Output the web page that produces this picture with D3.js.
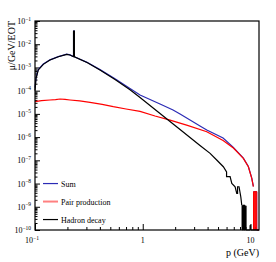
<!DOCTYPE html>
<html>
<head>
<meta charset="utf-8">
<script src="https://cdn.jsdelivr.net/npm/d3@7"></script>
<style>
  body { margin: 0; background: #fff; }
  svg { display: block; font-family: "Liberation Serif", "DejaVu Serif", serif; }
</style>
</head>
<body>
<div id="chart"></div>
<script>
// muon flux vs momentum
const hadronP = [0.100, 0.1022, 0.1073, 0.1194, 0.1377, 0.1645, 0.197, 0.2113, 0.2254, 0.228, 0.228, 0.232, 0.232, 0.304, 0.401, 0.553, 0.762, 0.944, 1.447, 2.22, 3.40, 4.22, 4.86, 5.60, 6.00, 6.00, 6.47, 6.71, 7.20, 7.46, 7.59, 7.59, 7.83, 8.13, 8.30];
const hadronV = [1.0e-4, 3.4e-4, 7.8e-4, 1.36e-3, 2.09e-3, 2.9e-3, 3.68e-3, 3.43e-3, 2.96e-3, 2.9e-3, 3.7e-2, 3.7e-2, 2.85e-3, 1.63e-3, 7.76e-4, 3.03e-4, 1.09e-4, 5.07e-5, 1.04e-5, 2.12e-6, 4.35e-7, 2.0e-7, 1.03e-7, 5.3e-8, 3.2e-8, 1.97e-8, 1.97e-8, 1.02e-8, 7.3e-9, 3.8e-9, 3.8e-9, 7.3e-9, 7.3e-9, 2.7e-9, 1.19e-9];
// last bins of the hadron histogram (bin edges, contents)
const hadronTailEdges = [8.30, 8.36, 8.42, 8.48, 8.54, 8.60, 8.66, 8.72, 8.78, 8.84, 8.90, 8.96, 9.02, 9.10, 9.90, 10.05, 12.0];
const hadronTailV = [1.2e-9, 0, 1.1e-9, 0, 1.2e-9, 0, 1.15e-9, 0, 1.2e-9, 0, 1.0e-9, 0, 1.1e-9, 0, 1.6e-10, 0, 0];

const pairP = [0.100, 0.115, 0.1377, 0.155, 0.1706, 0.19, 0.2113, 0.26, 0.324, 0.42, 0.533, 0.70, 0.944, 1.30, 1.793, 2.6, 3.93, 5.57, 6.94, 8.59, 9.56, 10.28, 10.64];
const pairV = [3.35e-5, 3.7e-5, 3.96e-5, 4.1e-5, 4.37e-5, 4.2e-5, 3.96e-5, 3.6e-5, 3.15e-5, 2.59e-5, 2.04e-5, 1.62e-5, 1.29e-5, 8.1e-6, 5.4e-6, 3.19e-6, 1.71e-6, 7.1e-7, 3.4e-7, 1.22e-7, 5.3e-8, 1.68e-8, 7.3e-9];
const pairTailEdges = [10.64, 10.67, 10.95, 10.98, 11.20, 11.23, 11.44, 12.0];
const pairTailV = [0, 4.5e-9, 0, 4.5e-9, 0, 4.5e-9, 0, 0];

const sumP = [0.100, 0.1022, 0.1073, 0.1194, 0.1377, 0.1645, 0.197, 0.2113, 0.2254, 0.228, 0.228, 0.232, 0.232, 0.304, 0.401, 0.553, 0.762, 0.944, 1.447, 1.911, 2.22, 3.40, 3.93, 5.57, 6.94, 8.59, 9.56, 10.28, 10.64];
const sumV = [1.35e-4, 3.74e-4, 8.15e-4, 1.40e-3, 2.13e-3, 2.94e-3, 3.72e-3, 3.47e-3, 3.0e-3, 2.95e-3, 3.7e-2, 3.7e-2, 2.9e-3, 1.66e-3, 8.05e-4, 3.23e-4, 1.25e-4, 6.5e-5, 2.67e-5, 1.47e-5, 9.8e-6, 3.0e-6, 2.02e-6, 9.1e-7, 3.6e-7, 1.24e-7, 5.4e-8, 1.72e-8, 7.5e-9];
const sumTailEdges = [10.64, 10.70, 11.44, 12.0];
const sumTailV = [5.4e-10, 4.5e-9, 0, 0];

const legendLabels = ['Sum', 'Pair production', 'Hadron decay'];
const xTickLabels = [[0.1, '10', '\u22121'], [1, '1', ''], [10, '10', '']];
const yExponents = [-1, -2, -3, -4, -5, -6, -7, -8, -9, -10];

const W = 276, H = 262;
const margin = { top: 21, right: 17, bottom: 32, left: 35 };
const width = W - margin.left - margin.right;
const height = H - margin.top - margin.bottom;

const svg = d3.select('#chart')
    .append('svg')
    .attr('width', W)
    .attr('height', H);

const g = svg.append('g')
    .attr('transform', `translate(${margin.left}, ${margin.top})`);

const xScale = d3.scaleLog().domain([0.1, 12]).range([0, width]);
const yScale = d3.scaleLog().domain([1e-10, 1e-1]).range([height, 0]).clamp(true);

const yVal = v => yScale(v > 0 ? v : 1e-10);

// minor ticks
const xMinor = [];
[0.1, 1].forEach(d => { for (let k = 2; k <= 9; k++) xMinor.push(k * d); });
xMinor.push(11);
const yMinor = [];
yExponents.slice(1).forEach(e => { for (let k = 2; k <= 9; k++) yMinor.push(k * Math.pow(10, e)); });

g.append('g')
    .attr('transform', `translate(0, ${height})`)
    .call(d3.axisBottom(xScale).tickValues(xMinor).tickSize(-3).tickFormat(''))
    .call(a => a.select('.domain').remove());
g.append('g')
    .attr('transform', `translate(0, ${height})`)
    .call(d3.axisBottom(xScale).tickValues(xTickLabels.map(d => d[0])).tickSize(-6).tickFormat(''))
    .call(a => a.select('.domain').remove());

g.append('g')
    .call(d3.axisLeft(yScale).tickValues(yMinor).tickSize(-2.5).tickFormat(''))
    .call(a => a.select('.domain').remove());
g.append('g')
    .call(d3.axisLeft(yScale).tickValues(yExponents.map(e => Math.pow(10, e))).tickSize(-5).tickFormat(''))
    .call(a => a.select('.domain').remove());

g.selectAll('.tick line').attr('stroke', '#000').attr('stroke-width', 1);

// tick labels with superscripts
const xLab = g.append('g').selectAll('text')
    .data(xTickLabels)
    .enter()
    .append('text')
    .attr('x', d => xScale(d[0]) + (d[2] ? -3 : 0))
    .attr('y', height + 13)
    .attr('text-anchor', 'middle')
    .style('font-size', '8px')
    .attr('fill', '#000');
xLab.append('tspan').text(d => d[1]);
xLab.append('tspan').attr('dy', -3.5).style('font-size', '5.5px').text(d => d[2]);

const yLab = g.append('g').selectAll('text')
    .data(yExponents)
    .enter()
    .append('text')
    .attr('x', -4)
    .attr('y', d => yScale(Math.pow(10, d)) + 3)
    .attr('text-anchor', 'end')
    .style('font-size', '8px')
    .attr('fill', '#000');
yLab.append('tspan').text('10');
yLab.append('tspan').attr('dy', -3.5).style('font-size', '5.5px').text(d => '\u2212' + Math.abs(d));

// curves: sum first, then pair, hadron on top
const line = d3.line()
    .x(d => xScale(d[0]))
    .y(d => yVal(d[1]));
const stepLine = d3.line()
    .x(d => xScale(d[0]))
    .y(d => yVal(d[1]))
    .curve(d3.curveStepAfter);

const series = [
    { main: d3.zip(sumP, sumV), tail: d3.zip(sumTailEdges, sumTailV), color: '#2b2bb5' },
    { main: d3.zip(pairP, pairV), tail: d3.zip(pairTailEdges, pairTailV), color: '#ff0000' },
    { main: d3.zip(hadronP, hadronV), tail: d3.zip(hadronTailEdges, hadronTailV), color: '#000000' }
];

const plot = g.append('g');
series.forEach(s => {
    plot.append('path')
        .attr('d', line(s.main))
        .attr('fill', 'none')
        .attr('stroke', s.color)
        .attr('stroke-width', 1.2);
    plot.append('path')
        .attr('d', stepLine(s.tail))
        .attr('fill', 'none')
        .attr('stroke', s.color)
        .attr('stroke-width', 1);
});

// frame
g.append('rect')
    .attr('x', 0)
    .attr('y', 0)
    .attr('width', width)
    .attr('height', height)
    .attr('fill', 'none')
    .attr('stroke', '#000')
    .attr('stroke-width', 1.2);

// axis titles
svg.append('text')
    .attr('transform', `translate(15, ${margin.top}) rotate(-90)`)
    .attr('text-anchor', 'end')
    .style('font-size', '10px')
    .text('\u03bc/GeV/EOT');

svg.append('text')
    .attr('x', margin.left + width)
    .attr('y', H - 6)
    .attr('text-anchor', 'end')
    .style('font-size', '10px')
    .text('p (GeV)');

// legend
const legendColors = ['#2b2bb5', '#ff8080', '#000000'];
const legend = g.append('g')
    .attr('transform', `translate(8, ${yScale(1e-8)})`);
legend.selectAll('.legend-item')
    .data(legendLabels)
    .enter()
    .append('g')
    .attr('class', 'legend-item')
    .attr('transform', (d, i) => `translate(0, ${i * 18})`)
    .each(function(d, i) {
        const item = d3.select(this);
        item.append('line')
            .attr('x1', 0)
            .attr('x2', 15)
            .attr('y1', 0)
            .attr('y2', 0)
            .attr('stroke', legendColors[i])
            .attr('stroke-width', i === 1 ? 2 : 1.2);
        item.append('text')
            .attr('x', 18)
            .attr('y', 3)
            .style('font-size', '8px')
            .text(d);
    });
</script>
</body>
</html>
